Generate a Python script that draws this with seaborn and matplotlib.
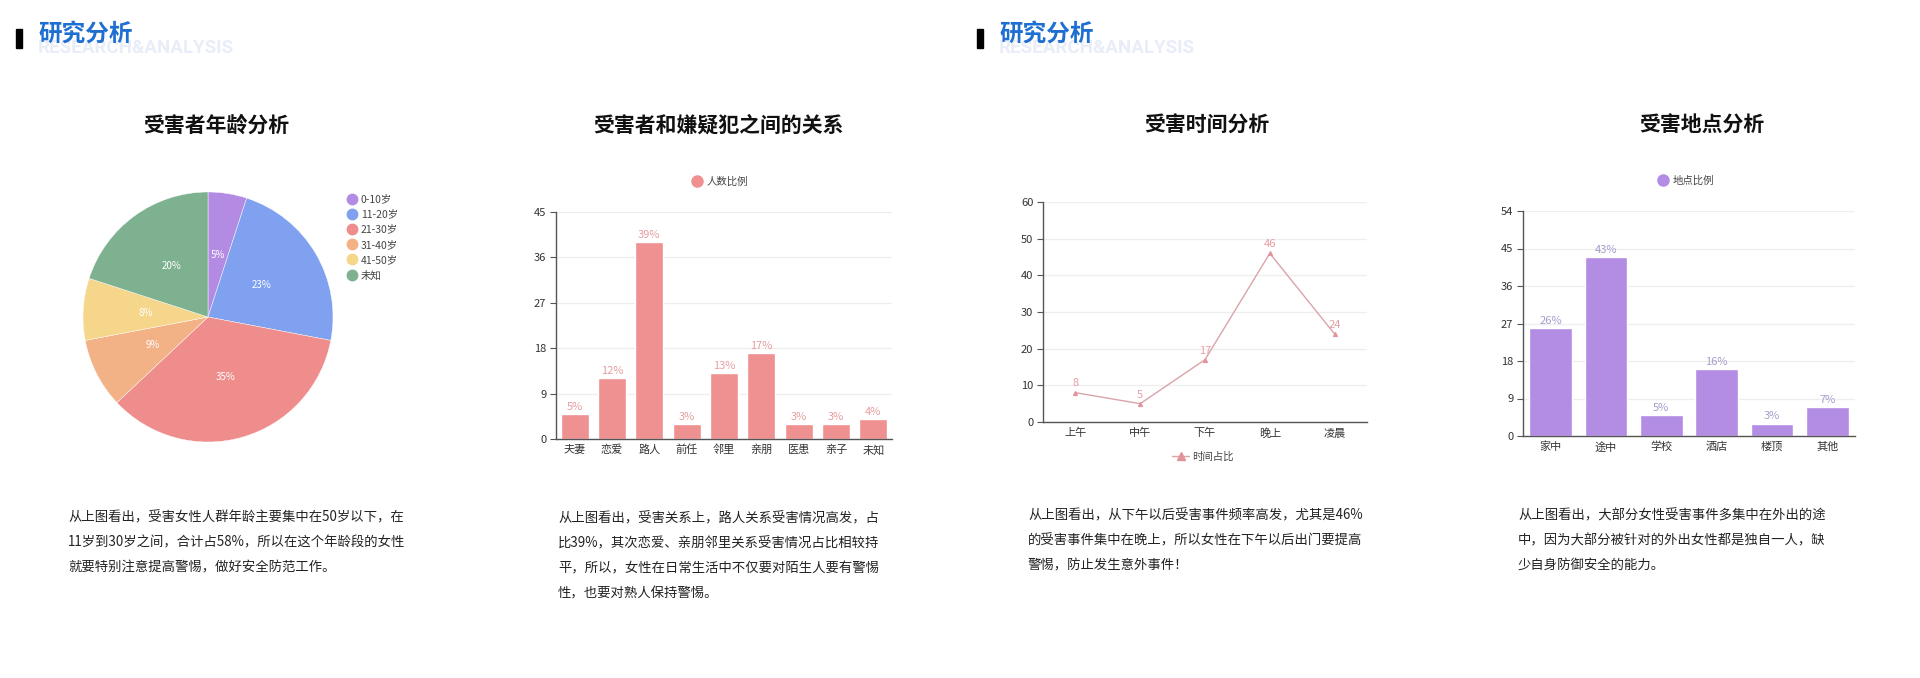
import matplotlib
matplotlib.use("Agg")
import matplotlib.pyplot as plt
import seaborn as sns
from matplotlib.lines import Line2D
from matplotlib.patches import Rectangle

# ---------------- data ----------------
age_labels = ["0-10岁", "11-20岁", "21-30岁", "31-40岁", "41-50岁", "未知"]
age_values = [5, 23, 35, 9, 8, 20]

rel_cats = ["夫妻", "恋爱", "路人", "前任", "邻里", "亲朋", "医患", "亲子", "未知"]
rel_values = [5, 12, 39, 3, 13, 17, 3, 3, 4]
rel_ticks = [0, 9, 18, 27, 36, 45]

time_cats = ["上午", "中午", "下午", "晚上", "凌晨"]
time_values = [8, 5, 17, 46, 24]
time_ticks = [0, 10, 20, 30, 40, 50, 60]

place_cats = ["家中", "途中", "学校", "酒店", "楼顶", "其他"]
place_values = [26, 43, 5, 16, 3, 7]
place_ticks = [0, 9, 18, 27, 36, 45, 54]

titles = ["受害者年龄分析", "受害者和嫌疑犯之间的关系", "受害时间分析", "受害地点分析"]
legend_names = ["人数比例", "时间占比", "地点比例"]
header_cn = "研究分析"
header_en = "RESEARCH&ANALYSIS"

para1 = ["从上图看出，受害女性人群年龄主要集中在50岁以下，在",
         "11岁到30岁之间，合计占58%，所以在这个年龄段的女性",
         "就要特别注意提高警惕，做好安全防范工作。"]
para2 = ["从上图看出，受害关系上，路人关系受害情况高发，占",
         "比39%，其次恋爱、亲朋邻里关系受害情况占比相较持",
         "平，所以，女性在日常生活中不仅要对陌生人要有警惕",
         "性，也要对熟人保持警惕。"]
para3 = ["从上图看出，从下午以后受害事件频率高发，尤其是46%",
         "的受害事件集中在晚上，所以女性在下午以后出门要提高",
         "警惕，防止发生意外事件！"]
para4 = ["从上图看出，大部分女性受害事件多集中在外出的途",
         "中，因为大部分被针对的外出女性都是独自一人，缺",
         "少自身防御安全的能力。"]

# ---------------- style ----------------
pie_colors = ["#b48be3", "#7fa1ef", "#ee8d8b", "#f3b186", "#f5d68b", "#7db18f"]
bar_pink = "#ef9091"
label_pink = "#e79da1"
bar_purple = "#b38ce4"
label_purple = "#a99cca"
line_color = "#d9a3a9"
marker_color = "#e3929a"
axis_color = "#555555"
tick_text = "#333333"
grid_color = "#eeeeee"

sns.set_theme(style="white")
plt.rcParams['font.family'] = ['Noto Sans CJK SC', 'DejaVu Sans']
plt.rcParams['axes.unicode_minus'] = False

W, H = 1920, 678
fig = plt.figure(figsize=(W / 100, H / 100), dpi=100)
fig.patch.set_facecolor("white")


def fx(px):
    return px / W


def fy(py):
    return 1 - py / H


def axpos(left, top, right, bottom):
    return [left / W, 1 - bottom / H, (right - left) / W, (bottom - top) / H]


# ---------------- headers ----------------
for bx, tx in [(16, 38), (977, 999)]:
    fig.patches.append(Rectangle((fx(bx), fy(48)), 6 / W, 19 / H,
                                 transform=fig.transFigure, color="black", zorder=5))
    fig.text(fx(tx), fy(48), header_en, color="#e8edf8", fontsize=13.5,
             fontweight="bold", va="center", ha="left",
             family=['Liberation Sans Narrow', 'Roboto', 'DejaVu Sans'], zorder=1)
    fig.text(fx(tx), fy(34), header_cn, color="#1f6fd2", fontsize=17,
             fontweight="bold", va="center", ha="left", zorder=2)

# ---------------- titles ----------------
for cx, t in zip([216, 718, 1207, 1702], titles):
    fig.text(fx(cx), fy(125), t, fontsize=15, fontweight="bold", color="#111111",
             ha="center", va="center")

# ---------------- paragraphs ----------------
for (x0, y0, lines) in [(68, 517, para1), (558, 518, para2),
                        (1028, 515, para3), (1518, 515, para4)]:
    for i, ln in enumerate(lines):
        fig.text(fx(x0), fy(y0 + i * 25), ln, fontsize=9.6, color="#222222",
                 ha="left", va="center")

# ---------------- pie ----------------
ax1 = fig.add_axes(axpos(83, 192, 333, 442))
wedges, _, autotexts = ax1.pie(age_values, colors=pie_colors, startangle=90,
                               counterclock=False, radius=1,
                               autopct=lambda p: f"{p:.0f}%", pctdistance=0.5,
                               textprops=dict(color="white", fontsize=7),
                               wedgeprops=dict(linewidth=0.3, edgecolor="white"))
ax1.set_xlim(-1, 1)
ax1.set_ylim(-1, 1)
ax1.set_aspect("equal")
ax1.axis("off")
handles = [Line2D([], [], marker="o", linestyle="", markersize=7.5,
                  markerfacecolor=c, markeredgecolor=c) for c in pie_colors]
fig.legend(handles, age_labels, loc="upper left", bbox_to_anchor=(fx(342), fy(189)),
           frameon=False, fontsize=7.5, labelspacing=0.5, handlelength=1.0,
           handletextpad=0.3, borderpad=0, labelcolor="#444444")


def style_axes(ax, ticks):
    ax.set_ylim(ticks[0], ticks[-1])
    ax.set_yticks(ticks)
    ax.yaxis.grid(True, color=grid_color, linewidth=0.9)
    ax.xaxis.grid(False)
    ax.set_axisbelow(True)
    for s in ["top", "right"]:
        ax.spines[s].set_visible(False)
    for s in ["left", "bottom"]:
        ax.spines[s].set_color(axis_color)
        ax.spines[s].set_linewidth(1.0)
    ax.tick_params(axis="y", which="major", length=4, width=0.8, color=axis_color,
                   labelsize=8, labelcolor=tick_text, pad=3, left=True)
    ax.tick_params(axis="x", which="major", length=0, labelsize=8,
                   labelcolor=tick_text, pad=4)
    ax.set_xlabel("")
    ax.set_ylabel("")


# ---------------- relationship bars ----------------
ax2 = fig.add_axes(axpos(556, 212, 892, 439))
sns.barplot(x=rel_cats, y=rel_values, color=bar_pink, saturation=1, width=0.75, ax=ax2)
ax2.set_xlim(-0.5, len(rel_cats) - 0.5)
style_axes(ax2, rel_ticks)
ax2.bar_label(ax2.containers[0], labels=[f"{v}%" for v in rel_values],
              padding=1.5, color=label_pink, fontsize=8)
fig.legend([Line2D([], [], marker="o", linestyle="", markersize=8,
                   markerfacecolor=bar_pink, markeredgecolor=bar_pink)],
           [legend_names[0]], loc="center", bbox_to_anchor=(fx(720), fy(182)),
           frameon=False, fontsize=7.5, handlelength=1.0, handletextpad=0.4,
           borderpad=0, labelcolor="#444444")

# ---------------- time line ----------------
ax3 = fig.add_axes(axpos(1043, 202, 1367, 422))
sns.pointplot(x=time_cats, y=time_values, color=line_color, markers="^",
              linestyles="-", markersize=3, linewidth=1.0, ax=ax3)
for coll in ax3.lines:
    coll.set_markerfacecolor(marker_color)
    coll.set_markeredgecolor(marker_color)
ax3.set_xlim(-0.5, len(time_cats) - 0.5)
style_axes(ax3, time_ticks)
ax3.set_xticks([i - 0.5 for i in range(len(time_cats) + 1)], minor=True)
ax3.tick_params(axis="x", which="minor", length=4, width=0.8, color=axis_color)
for i, v in enumerate(time_values):
    ax3.annotate(f"{v}", (i, v), xytext=(0, 3), textcoords="offset points",
                 ha="center", va="bottom", color=label_pink, fontsize=8)
fig.legend([Line2D([], [], color=line_color, marker="^", markersize=6,
                   markerfacecolor=marker_color, markeredgecolor=marker_color,
                   linewidth=1.0)],
           [legend_names[1]], loc="center", bbox_to_anchor=(fx(1203), fy(457)),
           frameon=False, fontsize=7.5, handlelength=1.6, handletextpad=0.3,
           borderpad=0, labelcolor="#444444")

# ---------------- place bars ----------------
ax4 = fig.add_axes(axpos(1523, 211, 1855, 436))
sns.barplot(x=place_cats, y=place_values, color=bar_purple, saturation=1, width=0.77, ax=ax4)
ax4.set_xlim(-0.5, len(place_cats) - 0.5)
style_axes(ax4, place_ticks)
ax4.bar_label(ax4.containers[0], labels=[f"{v}%" for v in place_values],
              padding=1.5, color=label_purple, fontsize=8)
fig.legend([Line2D([], [], marker="o", linestyle="", markersize=8,
                   markerfacecolor=bar_purple, markeredgecolor=bar_purple)],
           [legend_names[2]], loc="center", bbox_to_anchor=(fx(1686), fy(181)),
           frameon=False, fontsize=7.5, handlelength=1.0, handletextpad=0.4,
           borderpad=0, labelcolor="#444444")

fig.savefig("out.png", dpi=100, facecolor="white")
